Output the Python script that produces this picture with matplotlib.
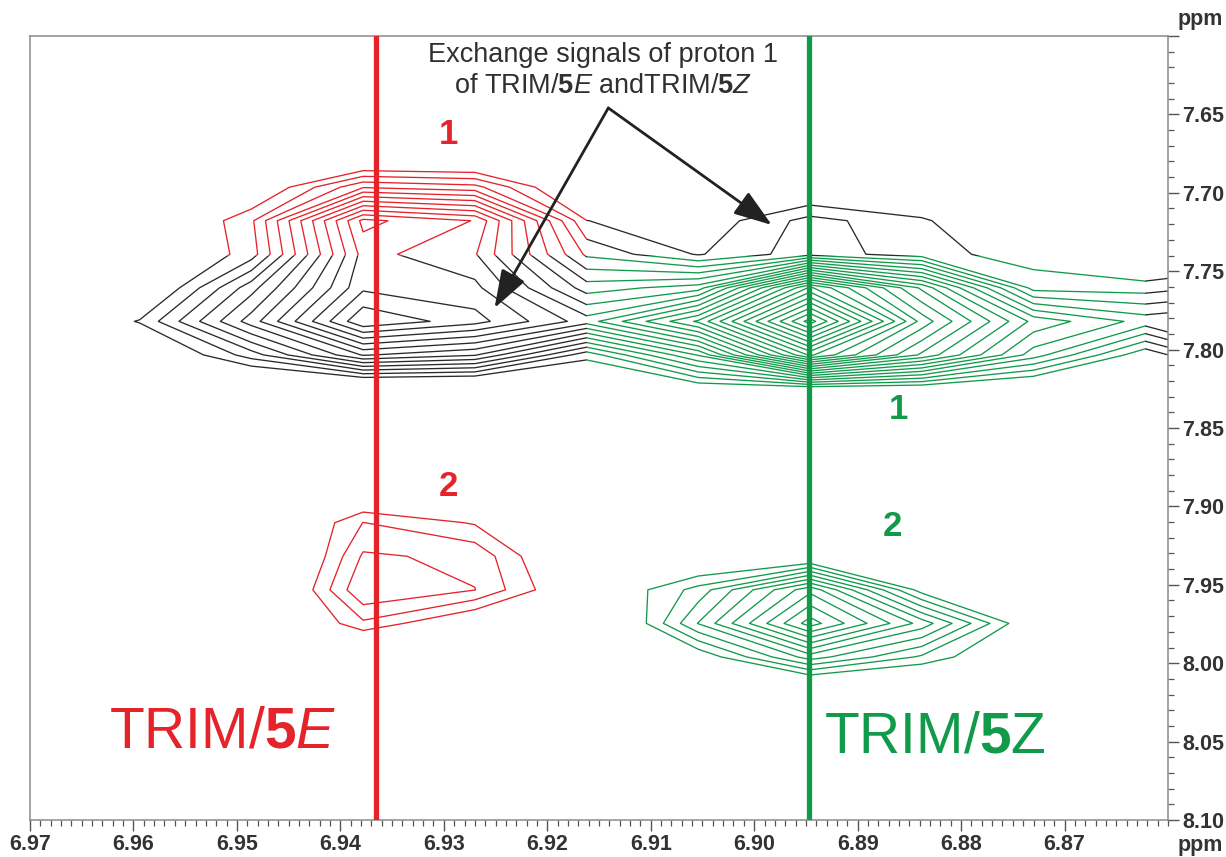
import numpy as np
import matplotlib
matplotlib.use("Agg")
import matplotlib.pyplot as plt
from matplotlib.path import Path
from matplotlib.patches import PathPatch
from matplotlib.ticker import FixedLocator, MultipleLocator

plt.rcParams['font.family'] = ['Liberation Sans', 'DejaVu Sans']
plt.rcParams['mathtext.fontset'] = 'custom'
plt.rcParams['mathtext.rm'] = 'Liberation Sans'
plt.rcParams['mathtext.it'] = 'Liberation Sans:italic'
plt.rcParams['mathtext.bf'] = 'Liberation Sans:bold'

# ---- spectrum data --------------------------------------------------------
# F2 (direct dimension) digital points, ppm, listed left to right
f2_grid = [6.9810, 6.9702, 6.9594, 6.9486, 6.9378, 6.9270, 6.9162,
           6.9054, 6.8946, 6.8838, 6.8730, 6.8622, 6.8514]

# F1 rows of the proton-1 region and the contour-level index at each point
f1_upper = [7.6536, 7.6750, 7.6964, 7.7178, 7.7392, 7.7606, 7.7820,
            7.8034, 7.8248, 7.8462]
level_upper = [
    [-3, -3, -3, -3, -3, -3, -3, -3, -3, -3, -3, -3, -3],
    [-3, -3, -3, -3, -3, -3, -3, -3, -3, -3, -3, -3, -3],
    [-3, -3, -3, -1.5, 2.9, 2.35, -2, -2, -1.6, -2, -3, -3, -3],
    [-3, -3, -2.4, 0.8, 10.3, 8.95, 0.02, -0.82, 1.4, 0.2, -2, -3, -3],
    [-3, -3, -2.1, 0.5, 9.4, 8.1, 1.8, -0.1, 1.6, 0.4, -0.5, -2, -1],
    [-3, -3, -2.0, 3.6, 9.8, 9.3, 4.5, 5.5, 15.2, 8.8, 0.59, 0.5, 1.5],
    [-3, -2, 0.1, 5.5, 11.9, 10.4, 7.5, 12.2, 21.5, 11.6, 5.7, 3.6, 4.5],
    [-3, -3, -2, 1.5, 6.1, 5.1, 0.35, 5.1, 14.2, 8.8, 3.5, -0.8, 3.1],
    [-3, -3, -3, -3, -3, -3, -2, -1, -0.8, -1, -2, -2, -1],
    [-3, -3, -3, -3, -3, -3, -3, -3, -3, -3, -3, -3, -3],
]

# F1 rows of the proton-2 region
f1_lower = [7.8676, 7.8890, 7.9104, 7.9318, 7.9532, 7.9746, 7.9960,
            8.0174, 8.0388]
level_lower = [
    [-3, -3, -3, -3, -3, -3, -3, -3, -3, -3, -3, -3, -3],
    [-3, -3, -3, -3, -2.2, -3, -3, -3, -3, -3, -3, -3, -3],
    [-3, -3, -3, -3, 1.02, -0.11, -3, -3, -3, -3, -3, -3, -3],
    [-3, -3, -3, -4.2, 2.15, 1.77, -2.5, -2, -1.8, -2, -3, -3, -3],
    [-3, -3, -3, -3.6, 2.95, 2.02, -1.7, 1.4, 6.7, -0.5, -2, -3, -3],
    [-3, -3, -3, -3, 0.8, -1.4, -3.5, 3.05, 9.5, 4.6, -1.3, -3, -3],
    [-3, -3, -3, -3, -3, -3, -3, -0.9, 3.5, 0.82, -2, -3, -3],
    [-3, -3, -3, -3, -3, -3, -3, -3, -3, -3, -3, -3, -3],
    [-3, -3, -3, -3, -3, -3, -3, -3, -3, -3, -3, -3, -3],
]

contour_levels = list(range(0, 22))

# chemical shifts of the two species (proton 1, F2)
shift_5E = 6.9366
shift_5Z = 6.8947

x_major_ticks = [6.97, 6.96, 6.95, 6.94, 6.93, 6.92, 6.91, 6.90, 6.89, 6.88, 6.87]
y_major_ticks = [7.60, 7.65, 7.70, 7.75, 7.80, 7.85, 7.90, 7.95, 8.00, 8.05, 8.10]
y_tick_labels = ['', '7.65', '7.70', '7.75', '7.80', '7.85', '7.90', '7.95',
                 '8.00', '8.05', '8.10']

RED = '#E4232A'
GREEN = '#119A4A'
BLACK = '#2A2A2A'

# ---- figure ----------------------------------------------------------------
fig = plt.figure(figsize=(12.26, 8.57), dpi=100)
ax = fig.add_axes([30 / 1226, 1 - 820 / 857, (1168 - 30) / 1226, (820 - 36) / 857])

x = np.array(f2_grid)[::-1]


def rect(x0, x1, y0, y1):
    return Path([(x0, y0), (x1, y0), (x1, y1), (x0, y1), (x0, y0)],
                [Path.MOVETO, Path.LINETO, Path.LINETO, Path.LINETO, Path.CLOSEPOLY])


def clip_patch(paths):
    return PathPatch(Path.make_compound_path(*paths), transform=ax.transData,
                     facecolor='none', edgecolor='none')


split_x = 6.9162     # species boundary in F2
right_x = 6.8622
split_y = 7.7400

z_up = np.array(level_upper)[:, ::-1]
z_lo = np.array(level_lower)[:, ::-1]

regions_upper = [
    (RED, [rect(split_x, 7.10, 7.50, split_y)]),
    (GREEN, [rect(right_x, split_x, split_y, 7.95)]),
    (BLACK, [rect(split_x, 7.10, split_y, 7.95),
             rect(right_x, split_x, 7.50, split_y),
             rect(6.70, right_x, 7.50, 7.95)]),
]
for color, paths in regions_upper:
    cs = ax.contour(x, f1_upper, z_up, levels=contour_levels,
                    colors=color, linewidths=0.95, linestyles='solid')
    cs.set_clip_path(clip_patch(paths))

regions_lower = [
    (RED, [rect(split_x, 7.10, 7.80, 8.20)]),
    (GREEN, [rect(6.70, split_x, 7.80, 8.20)]),
]
for color, paths in regions_lower:
    cs = ax.contour(x, f1_lower, z_lo, levels=contour_levels,
                    colors=color, linewidths=0.95, linestyles='solid')
    cs.set_clip_path(clip_patch(paths))

# F2 positions of proton 1 for each species
ax.axvline(shift_5E, color=RED, lw=3.8, zorder=5)
ax.axvline(shift_5Z, color=GREEN, lw=3.8, zorder=5)

ax.set_xlim(6.97, 6.86)
ax.set_ylim(8.10, 7.60)

# ---- labels ------------------------------------------------------------------
num_kw = dict(fontsize=25, fontweight='bold', ha='center', va='center', zorder=6)
ax.text(6.9296, 7.6631, '1', color=RED, **num_kw)
ax.text(6.9296, 7.8876, '2', color=RED, **num_kw)
ax.text(6.8861, 7.8385, '1', color=GREEN, **num_kw)
ax.text(6.8866, 7.9131, '2', color=GREEN, **num_kw)

ax.text(6.9514, 8.0445, r'TRIM/$\mathbf{5}\mathit{E}$', color=RED, fontsize=41,
        ha='center', va='center', zorder=6)
ax.text(6.8825, 8.0471, r'TRIM/$\mathbf{5}$Z', color=GREEN, fontsize=41,
        ha='center', va='center', zorder=6)

ann_kw = dict(fontsize=19.5, color='#303030', ha='center', va='center', zorder=6)
ax.text(6.9146, 7.6121, 'Exchange signals of proton 1', **ann_kw)
ax.text(6.9146, 7.6319, r'of TRIM/$\mathbf{5}\mathit{E}$ andTRIM/$\mathbf{5}\mathit{Z}$', **ann_kw)

apex = (6.9141, 7.6459)
for tip in [(6.9251, 7.7735), (6.8983, 7.7205)]:
    ax.annotate('', xy=tip, xytext=apex, zorder=7,
                arrowprops=dict(arrowstyle='-|>,head_length=1.3,head_width=0.45',
                                lw=2.0, color='#222222', shrinkA=0, shrinkB=0,
                                mutation_scale=18))

# ---- axes styling ------------------------------------------------------------
ax.yaxis.tick_right()
ax.xaxis.set_major_locator(FixedLocator(x_major_ticks))
ax.set_xticklabels(['%.2f' % v for v in x_major_ticks])
ax.xaxis.set_minor_locator(MultipleLocator(0.001))
ax.yaxis.set_major_locator(FixedLocator(y_major_ticks))
ax.set_yticklabels(y_tick_labels)
ax.yaxis.set_minor_locator(MultipleLocator(0.01))

ax.tick_params(which='major', direction='out', length=8, width=1.0,
               colors='#555555', labelcolor='#333333', labelsize=15.5, pad=2)
ax.tick_params(which='minor', direction='out', length=4, width=0.9,
               colors='#555555')
for lab in ax.get_xticklabels() + ax.get_yticklabels():
    lab.set_fontweight('bold')

for side in ['left', 'right', 'top', 'bottom']:
    ax.spines[side].set_color('#8a8a8a')
    ax.spines[side].set_linewidth(1.1)

fig.text(1200 / 1226, 1 - 20 / 857, 'ppm', fontsize=15.5, fontweight='bold',
         color='#333333', ha='center', va='center')
fig.text(1200 / 1226, 1 - 846 / 857, 'ppm', fontsize=15.5, fontweight='bold',
         color='#333333', ha='center', va='center')

fig.savefig('out.png', dpi=100)
